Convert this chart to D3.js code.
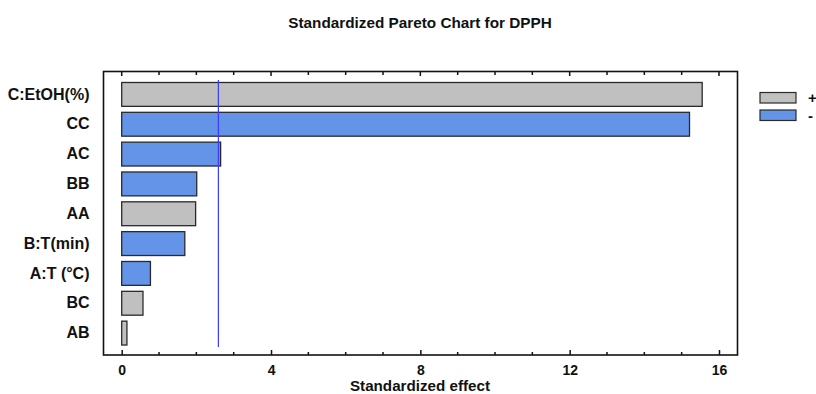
<!DOCTYPE html>
<html>
<head>
<meta charset="utf-8">
<script src="https://cdn.jsdelivr.net/npm/d3@7"></script>
<style>
  html, body { margin: 0; padding: 0; background: #fff; }
  svg { display: block; }
  text { font-family: "Liberation Sans", Arial, sans-serif; font-weight: bold; fill: #111; }
</style>
</head>
<body>
<svg id="chart" width="816" height="394"></svg>
<script>
// Effects, ordered by absolute standardized effect
const effects = ["C:EtOH(%)", "CC", "AC", "BB", "AA", "B:T(min)", "A:T (°C)", "BC", "AB"];
const effectValues = [15.55, 15.21, 2.65, 2.01, 1.98, 1.69, 0.77, 0.57, 0.14];
const effectSigns = ["+", "-", "-", "-", "+", "-", "-", "+", "+"];
const criticalValue = 2.59;
const xTicks = [0, 4, 8, 12, 16];
const legendItems = ["+", "-"];

const colors = { "+": "#c0c0c0", "-": "#6394e8" };

const svg = d3.select("#chart");
const frame = { left: 103.5, right: 737.5, top: 71.5, bottom: 355 };

const x = d3.scaleLinear().domain([0, 16]).range([121.7, 719]);
const y = d3.scaleBand().domain(effects).range([79.5, 348]).paddingInner(0.2).paddingOuter(0.1);

// Title
svg.append("text")
  .attr("x", 420).attr("y", 28)
  .attr("text-anchor", "middle")
  .style("font-size", "15.3px")
  .text("Standardized Pareto Chart for DPPH");

// Bars
svg.append("g").selectAll("rect")
  .data(effects)
  .join("rect")
  .attr("x", x(0))
  .attr("y", d => y(d))
  .attr("width", (d, i) => x(effectValues[i]) - x(0))
  .attr("height", y.bandwidth())
  .attr("fill", (d, i) => colors[effectSigns[i]])
  .attr("stroke", "#2a2a2a")
  .attr("stroke-width", 1.3);

// Critical value line
svg.append("line")
  .attr("x1", x(criticalValue)).attr("x2", x(criticalValue))
  .attr("y1", 80).attr("y2", 347)
  .attr("stroke", "#3b3bff")
  .attr("stroke-width", 1.2);

// Frame
svg.append("rect")
  .attr("x", frame.left).attr("y", frame.top)
  .attr("width", frame.right - frame.left)
  .attr("height", frame.bottom - frame.top)
  .attr("fill", "none")
  .attr("stroke", "#111")
  .attr("stroke-width", 1.6);

// Bottom axis: major ticks every 4, minor every 1, drawn inward
const minorTicks = d3.range(0, 17);
const bottomAxis = d3.axisBottom(x).tickValues(xTicks).tickSize(-5).tickPadding(8).tickFormat(d3.format("d"));
const gB = svg.append("g").attr("transform", `translate(0,${frame.bottom})`).call(bottomAxis);
gB.select(".domain").remove();
gB.selectAll(".tick line").attr("stroke", "#111").attr("stroke-width", 1.5);
gB.selectAll(".tick text").attr("y", 20).attr("dy", 0).style("font-size", "14px").attr("fill", "#111");
svg.append("g").selectAll("line").data(minorTicks.filter(v => v % 4 !== 0)).join("line")
  .attr("x1", d => x(d)).attr("x2", d => x(d))
  .attr("y1", frame.bottom).attr("y2", frame.bottom - 3)
  .attr("stroke", "#111").attr("stroke-width", 1.5);

// Top mirrored ticks
svg.append("g").selectAll("line").data(minorTicks).join("line")
  .attr("x1", d => x(d)).attr("x2", d => x(d))
  .attr("y1", frame.top).attr("y2", d => frame.top + (d % 4 === 0 ? 4.5 : 3.5))
  .attr("stroke", "#111").attr("stroke-width", 1.5);

// Category labels
const leftAxis = d3.axisLeft(y).tickSize(0).tickPadding(0);
const gL = svg.append("g").attr("transform", "translate(89.5,0)").call(leftAxis);
gL.select(".domain").remove();
gL.selectAll(".tick text").style("font-size", "16px").attr("fill", "#111");

// Axis title
svg.append("text")
  .attr("x", 420).attr("y", 391)
  .attr("text-anchor", "middle")
  .style("font-size", "15.2px")
  .text("Standardized effect");

// Legend
const legend = svg.append("g").selectAll("g").data(legendItems).join("g")
  .attr("transform", (d, i) => `translate(760,${92.5 + i * 17.5})`);
legend.append("rect")
  .attr("width", 36).attr("height", 10.5)
  .attr("fill", d => colors[d])
  .attr("stroke", "#2a2a2a").attr("stroke-width", 1.2);
legend.append("text")
  .attr("x", 48).attr("y", 5.5)
  .attr("dy", "0.35em")
  .style("font-size", "15px")
  .text(d => d);
</script>
</body>
</html>
